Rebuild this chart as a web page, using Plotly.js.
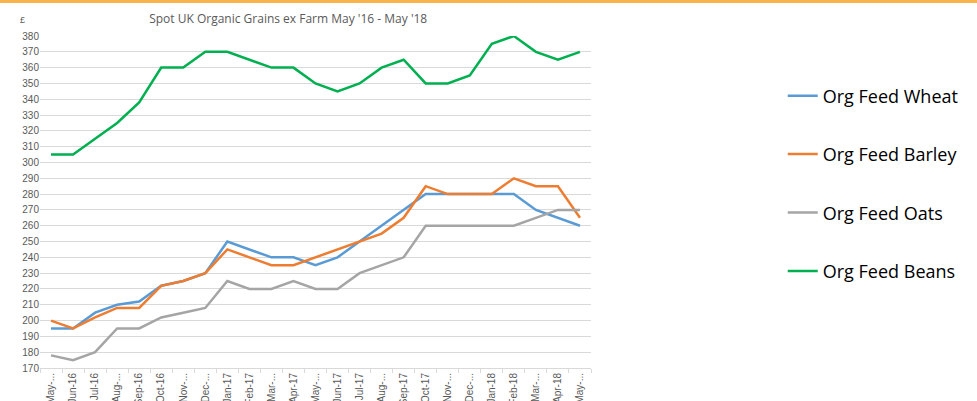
<!DOCTYPE html>
<html>
<head>
<meta charset="utf-8">
<script src="https://cdn.plot.ly/plotly-3.0.1.min.js"></script>
<style>html,body{margin:0;padding:0;background:#fff;}#chart{width:977px;height:401px;}</style>
</head>
<body>
<div id="chart"></div>
<script>
const months = ["May-16","Jun-16","Jul-16","Aug-16","Sep-16","Oct-16","Nov-16","Dec-16","Jan-17","Feb-17","Mar-17","Apr-17","May-17","Jun-17","Jul-17","Aug-17","Sep-17","Oct-17","Nov-17","Dec-17","Jan-18","Feb-18","Mar-18","Apr-18","May-18"];
const tickLabels = ["May-...","Jun-16","Jul-16","Aug-...","Sep-16","Oct-16","Nov-...","Dec-...","Jan-17","Feb-17","Mar-...","Apr-17","May-...","Jun-17","Jul-17","Aug-...","Sep-17","Oct-17","Nov-...","Dec-...","Jan-18","Feb-18","Mar-...","Apr-18","May-..."];
const wheat  = [195,195,205,210,212,222,225,230,250,245,240,240,235,240,250,260,270,280,280,280,280,280,270,265,260];
const barley = [200,195,202,208,208,222,225,230,245,240,235,235,240,245,250,255,265,285,280,280,280,290,285,285,265];
const oats   = [178,175,180,195,195,202,205,208,225,220,220,225,220,220,230,235,240,260,260,260,260,260,265,270,270];
const beans  = [305,305,315,325,338,360,360,370,370,365,360,360,350,345,350,360,365,350,350,355,375,380,370,365,370];

const mk = (name, y, color, g) => ({
  type: 'scatter', mode: 'lines', name: name, x: months, y: y,
  line: {color: color, width: 2.5}, legendgroup: g
});
const data = [
  mk('Org Feed Wheat', wheat, '#5B9BD5', 'a'),
  mk('Org Feed Barley', barley, '#ED7D31', 'b'),
  mk('Org Feed Oats', oats, '#A5A5A5', 'c'),
  mk('Org Feed Beans', beans, '#00B050', 'd')
];
const H = 332;
const layout = {
  width: 977, height: 401,
  margin: {l: 40, r: 386, t: 36, b: 33},
  paper_bgcolor: '#fff', plot_bgcolor: '#fff',
  font: {family: 'Liberation Sans, Arial, sans-serif', color: '#595959'},
  title: {text: "Spot UK Organic Grains ex Farm May '16 - May '18", font: {size: 12, color: '#595959', family: 'Open Sans, sans-serif'}, x: 0.295, xanchor: 'center', y: 0.952, yanchor: 'middle'},
  showlegend: true,
  legend: {x: 1.348, y: 0.875, xanchor: 'left', yanchor: 'top', font: {size: 18, color: '#000', family: 'Open Sans, sans-serif'}, tracegroupgap: 32, bgcolor: 'rgba(0,0,0,0)'},
  xaxis: {
    type: 'category', tickmode: 'array', tickvals: months, ticktext: tickLabels,
    tickangle: -90, tickfont: {size: 10, color: '#595959', family: 'Liberation Sans, Arial, sans-serif'},
    showgrid: false, showline: true, linecolor: '#D9D9D9', linewidth: 1,
    ticks: 'outside', tickson: 'boundaries', ticklen: 4, tickcolor: '#D9D9D9',
    automargin: false, range: [-0.5, 24.5], fixedrange: true
  },
  yaxis: {
    range: [170, 380], dtick: 10, tick0: 170, tickfont: {size: 10, color: '#595959'},
    showgrid: true, gridcolor: '#D9D9D9', gridwidth: 1, zeroline: false, showline: false,
    ticks: '', automargin: false, fixedrange: true
  },
  shapes: [{type: 'rect', xref: 'paper', yref: 'paper', x0: -40/551, x1: 937/551, y0: (368-3)/H, y1: 368/H, fillcolor: '#F9B34B', line: {width: 0}}],
  annotations: [{text: '£', xref: 'paper', yref: 'paper', x: -18/551, y: (368-20)/H, showarrow: false, font: {size: 9, color: '#595959'}, xanchor: 'center', yanchor: 'middle'}]
};
Plotly.newPlot('chart', data, layout, {displayModeBar: false, staticPlot: true});
</script>
</body>
</html>
